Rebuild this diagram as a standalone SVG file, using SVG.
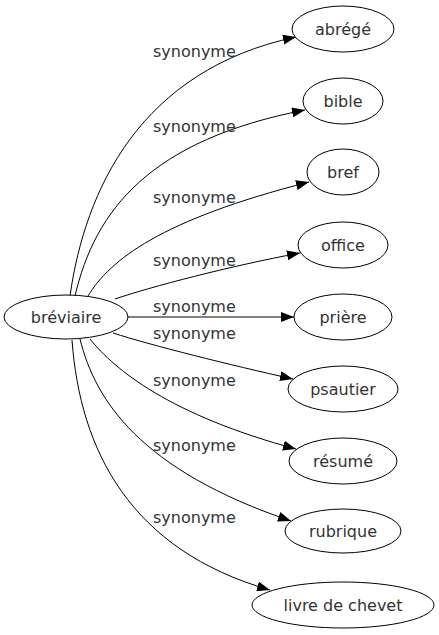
<svg xmlns="http://www.w3.org/2000/svg" width="439" height="635" viewBox="0 0 439 635">
<style>
.node ellipse{fill:#fff;stroke:#000;stroke-width:1}
.node text,.lbl{font-family:"DejaVu Sans",sans-serif;font-size:16px;fill:#333}
.node text{text-anchor:middle}
.edges path{fill:none;stroke:#000;stroke-width:1;marker-end:url(#arr)}
</style>
<defs>
<marker id="arr" viewBox="0 0 13 10" refX="13" refY="5" markerWidth="13" markerHeight="10" markerUnits="userSpaceOnUse" orient="auto">
<path d="M0,0 L13,5 L0,10 z" fill="#000"/>
</marker>
</defs>
<rect width="439" height="635" fill="#fff"/>
<g class="edges" id="connectors">
<path d="M70,296 C85,190 140,70 296,37"/>
<path d="M75,296 C95,210 150,140 305,110"/>
<path d="M88,296 C110,260 160,220 309,182"/>
<path d="M115,299 C150,287 230,266 300,253"/>
<path d="M128,317 L294,317"/>
<path d="M113,333 C150,345 230,365 293,379"/>
<path d="M90,339 C115,370 170,415 296,449"/>
<path d="M80,339 C95,400 140,470 291,521"/>
<path d="M72,340 C80,450 130,550 270,590"/>
</g>
<g id="labels">
<text class="lbl" x="153" y="57">synonyme</text>
<text class="lbl" x="153" y="132">synonyme</text>
<text class="lbl" x="153" y="203">synonyme</text>
<text class="lbl" x="153" y="266">synonyme</text>
<text class="lbl" x="153" y="312">synonyme</text>
<text class="lbl" x="153" y="339">synonyme</text>
<text class="lbl" x="153" y="386">synonyme</text>
<text class="lbl" x="153" y="451">synonyme</text>
<text class="lbl" x="153" y="523">synonyme</text>
</g>
<g class="node" id="breviaire"><ellipse cx="66" cy="317" rx="62" ry="22"/><text x="66" y="323">bréviaire</text></g>
<g class="node" id="abrege"><ellipse cx="343" cy="29" rx="51" ry="23"/><text x="343" y="35">abrégé</text></g>
<g class="node" id="bible"><ellipse cx="343" cy="101" rx="40" ry="23"/><text x="343" y="107">bible</text></g>
<g class="node" id="bref"><ellipse cx="343" cy="172" rx="36" ry="23"/><text x="343" y="178">bref</text></g>
<g class="node" id="office"><ellipse cx="343" cy="245" rx="45" ry="23"/><text x="343" y="251">office</text></g>
<g class="node" id="priere"><ellipse cx="343" cy="317" rx="49" ry="23"/><text x="343" y="323">prière</text></g>
<g class="node" id="psautier"><ellipse cx="343" cy="389" rx="55" ry="23"/><text x="343" y="395">psautier</text></g>
<g class="node" id="resume"><ellipse cx="343" cy="461" rx="54" ry="23"/><text x="343" y="467">résumé</text></g>
<g class="node" id="rubrique"><ellipse cx="343" cy="531" rx="58" ry="22"/><text x="343" y="537">rubrique</text></g>
<g class="node" id="livre"><ellipse cx="343" cy="605" rx="91" ry="23"/><text x="343" y="611">livre de chevet</text></g>
</svg>
